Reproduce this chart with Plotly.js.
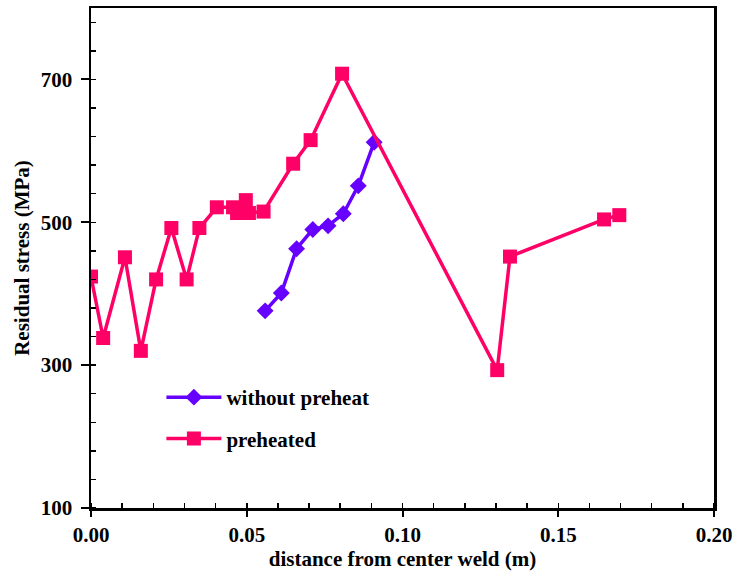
<!DOCTYPE html>
<html>
<head>
<meta charset="utf-8">
<script src="https://cdn.plot.ly/plotly-3.0.1.min.js"></script>
<style>html,body{margin:0;padding:0;background:#fff;}#chart{width:734px;height:571px;}</style>
</head>
<body>
<div id="chart"></div>
<script>
// Data
const withoutX = [0.0559, 0.0611, 0.0660, 0.0712, 0.0761, 0.0810, 0.0858, 0.0909];
const withoutY = [376, 401, 463, 490, 495, 512, 551, 612];

const preheatedX = [0.0, 0.0039, 0.0109, 0.0160, 0.0209, 0.0258, 0.0307, 0.0348, 0.0404, 0.0456, 0.0469, 0.0497, 0.0507, 0.0554, 0.0649, 0.0705, 0.0806, 0.1304, 0.1345, 0.1647, 0.1696];
const preheatedY = [424, 338, 451, 320, 420, 492, 420, 492, 521, 521, 513, 531, 513, 515, 582, 615, 708, 293, 452, 504, 510];

const seriesNames = ["without preheat", "preheated"];
const xTitle = "distance from center weld (m)";
const yTitle = "Residual stress (MPa)";
const xTickVals = [0, 0.05, 0.1, 0.15, 0.2];
const yTickVals = [100, 300, 500, 700];

const font = "Liberation Serif, Times New Roman, serif";

const traces = [
  {
    x: withoutX, y: withoutY, name: seriesNames[0], type: "scatter", mode: "lines+markers",
    line: {color: "#6600FF", width: 3.5},
    marker: {symbol: "diamond", size: 13, color: "#6600FF"},
    legendgroup: "a"
  },
  {
    x: preheatedX, y: preheatedY, name: seriesNames[1], type: "scatter", mode: "lines+markers",
    line: {color: "#FF0066", width: 3.5},
    marker: {symbol: "square", size: 14, color: "#FF0066"},
    legendgroup: "b"
  }
];

const axisCommon = {
  showgrid: false, zeroline: false, showline: true, mirror: true,
  linecolor: "#000", linewidth: 2.5,
  ticks: "outside", ticklen: 6, tickwidth: 2, tickcolor: "#000",
  tickfont: {family: font, size: 21, color: "#000", weight: "bold"}
};

const layout = {
  width: 734, height: 571,
  margin: {l: 91, r: 20, t: 8, b: 63},
  paper_bgcolor: "#fff", plot_bgcolor: "#fff",
  showlegend: true,
  legend: {
    x: 0.113, y: 0.262, xanchor: "left", yanchor: "top",
    font: {family: font, size: 21, color: "#000", weight: "bold"},
    bgcolor: "rgba(0,0,0,0)", itemwidth: 55, tracegroupgap: 11
  },
  xaxis: Object.assign({}, axisCommon, {
    range: [0, 0.2], tickvals: xTickVals, tickformat: ".2f", automargin: false,
    minor: {dtick: 0.01, ticks: "inside", ticklen: 5, tickwidth: 1.5, tickcolor: "#000"},
    title: {text: xTitle, font: {family: font, size: 21, color: "#000", weight: "bold"}, standoff: 6}
  }),
  yaxis: Object.assign({}, axisCommon, {
    range: [100, 800], tickvals: yTickVals, automargin: false,
    ticklen: 8, ticklabelstandoff: 4,
    minor: {dtick: 40, tick0: 100, ticks: "inside", ticklen: 5, tickwidth: 1.5, tickcolor: "#000"},
    title: {text: yTitle, font: {family: font, size: 21, color: "#000", weight: "bold"}, standoff: 6}
  })
};

Plotly.newPlot("chart", traces, layout, {displayModeBar: false, staticPlot: true});
</script>
</body>
</html>
